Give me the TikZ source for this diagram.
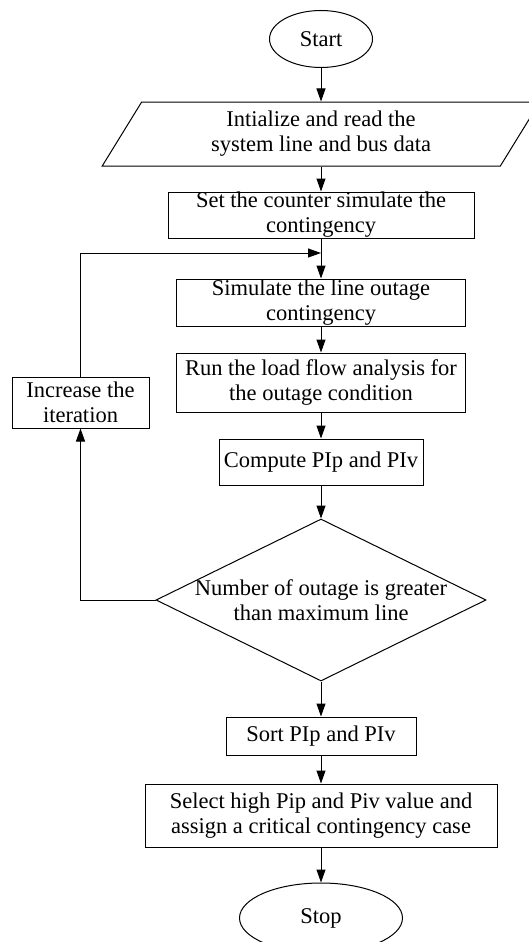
\documentclass[tikz,border=0pt]{standalone}
\usepackage{fontspec}
\setmainfont{Liberation Serif}
\usetikzlibrary{arrows.meta,shapes.geometric}

\begin{document}
\begin{tikzpicture}
		[x=1pt,y=-1pt,
		>={Triangle[length=13pt,width=9pt]},
		every node/.style={font=\fontsize{22.5}{25}\selectfont,align=center,inner sep=0pt},
		blk/.style={draw,line width=1pt,rectangle},
		term/.style={draw,line width=1pt,ellipse},
		io/.style={draw,line width=1pt,trapezium,trapezium left angle=62,trapezium right angle=118,trapezium stretches=true},
		dec/.style={draw,line width=1pt,diamond},
		every edge/.style={draw,line width=1pt}]

		\useasboundingbox (0,0) rectangle (529,942);

		\node[term,minimum width=103,minimum height=57] (start) at (321,39) {Start};

		\node[io,minimum width=438,minimum height=64] (init) at (321,134) {Intialize and read the\\system line and bus data}
			edge [<-]	(start)
		;

		\node[blk,minimum width=306,minimum height=46] (count) at (321,215) {Set the counter simulate the\\contingency}
			edge [<-]	(init)
		;

		\coordinate (loop) at (321,253);

		\node[blk,minimum width=289,minimum height=47] (simul) at (321,302.5) {Simulate the line outage\\contingency}
			edge [<-]	(count)
		;

		\node[blk,minimum width=289,minimum height=59] (run) at (321,382.5) {Run the load flow analysis for\\the outage condition}
			edge [<-]	(simul)
		;

		\node[blk,minimum width=204,minimum height=46] (comp) at (321,462) {Compute PIp and PIv}
			edge [<-]	(run)
		;

		\node[dec,minimum width=330,minimum height=162] (dec) at (321,600) {}
			edge [<-]	(comp)
		;
		\node (dectext) at (321,600) {Number of outage is greater\\than maximum line};

		\node[blk,minimum width=190,minimum height=38] (sort) at (321,736) {Sort PIp and PIv}
			edge [<-]	(dec)
		;

		\node[blk,minimum width=352,minimum height=63] (sel) at (321,815.5) {Select high Pip and Piv value and\\assign a critical contingency case}
			edge [<-]	(sort)
		;

		\node[term,minimum width=163,minimum height=70] (stop) at (321,918) {Stop}
			edge [<-]	(sel)
		;

		\node[blk,minimum width=137,minimum height=51] (inc) at (80.5,402.5) {Increase the\\iteration};

		% back to the next outage
		\draw[line width=1pt,->] (dec.west) -| (inc.south);
		\draw[line width=1pt,->] (inc.north) |- (loop);

	\end{tikzpicture}
\end{document}
